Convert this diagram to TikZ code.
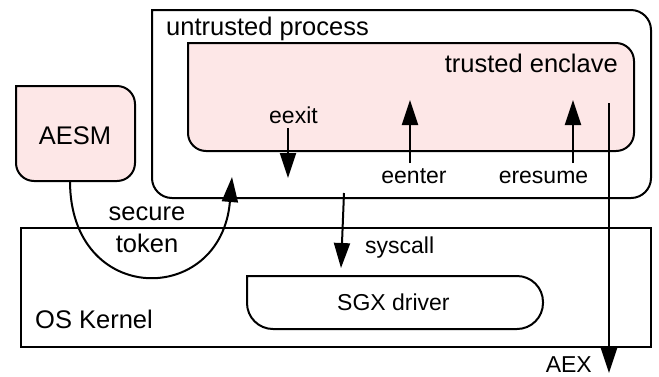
\documentclass[tikz,border=0pt]{standalone}
\usepackage{fontspec}
\setmainfont{Liberation Sans}
\usetikzlibrary{arrows.meta}
\definecolor{enclpink}{RGB}{253,231,231}
\tikzset{
  boxline/.style={line width=2pt, line cap=rect, line join=miter},
  pinkbox/.style={boxline, fill=enclpink},
  bigtext/.style={font=\fontsize{25.5}{30}\selectfont, inner sep=0pt},
  smalltext/.style={font=\fontsize{23}{28}\selectfont, inner sep=0pt},
  flow/.style={line width=2pt, -{Triangle[width=16pt,length=25pt]}}
}
\begin{document}
\begin{tikzpicture}[x=1pt,y=-1pt]
\useasboundingbox (0,0) rectangle (659,376);
% OS kernel
\draw[boxline] (21,228) rectangle (651,347);
% SGX driver
\draw[boxline] (247,276) [rounded corners=26pt] -- (543,276) -- (543,329) -- (247,329) -- (247,276);
% untrusted process
\draw[boxline] (152,10) [rounded corners=20pt] -- (651,10) -- (651,198) -- (152,198) -- (152,10);
% trusted enclave
\draw[pinkbox] (188,43) [rounded corners=18pt] -- (634,43) -- (634,151) -- (188,151) -- (188,43);
% AESM
\draw[pinkbox] (16,86) [rounded corners=18pt] -- (135,86) -- (135,181) -- (16,181) -- (16,86);

% labels
\node[bigtext, anchor=base west] (untrusted) at (166,35) {untrusted process};
\node[bigtext, anchor=base east] (enclave) at (618,72) {trusted enclave};
\node[bigtext, anchor=base] (aesm) at (75,144) {AESM};
\node[bigtext, anchor=base west] (kernel) at (35,328) {OS Kernel};
\node[smalltext, anchor=base west] (sgx) at (337,310) {SGX driver};
\node[smalltext, anchor=base] (eexit) at (293.5,123) {eexit};
\node[smalltext, anchor=base] (eenter) at (414,183) {eenter};
\node[smalltext, anchor=base] (eresume) at (543.5,183) {eresume};
\node[bigtext, anchor=base] (secure) at (147,220) {secure};
\node[bigtext, anchor=base] (token) at (147,252) {token};
\node[smalltext, anchor=base west] (syscall) at (365,253) {syscall};
\node[smalltext, anchor=base east] (aex) at (592,372) {AEX};

% connector end points
\coordinate (eexitS) at (288,128);
\coordinate (eexitE) at (288,178);
\coordinate (eenterS) at (410,163);
\coordinate (eenterE) at (410,100);
\coordinate (eresS) at (573,163);
\coordinate (eresE) at (573,100);
\coordinate (aexS) at (609,103);
\coordinate (aexE) at (609,373);
\coordinate (sysS) at (344,193);
\coordinate (sysE) at (341,268);
\coordinate (tokS) at (70,181);
\coordinate (tokE) at (232,177);

% connectors
\draw[flow] (eexitS) -- (eexitE);
\draw[flow] (eenterS) -- (eenterE);
\draw[flow] (eresS) -- (eresE);
\draw[flow] (aexS) -- (aexE);
\draw[flow] (sysS) -- (sysE);
\draw[flow] (tokS) .. controls (70,307) and (221,307) .. (tokE);
\end{tikzpicture}
\end{document}
